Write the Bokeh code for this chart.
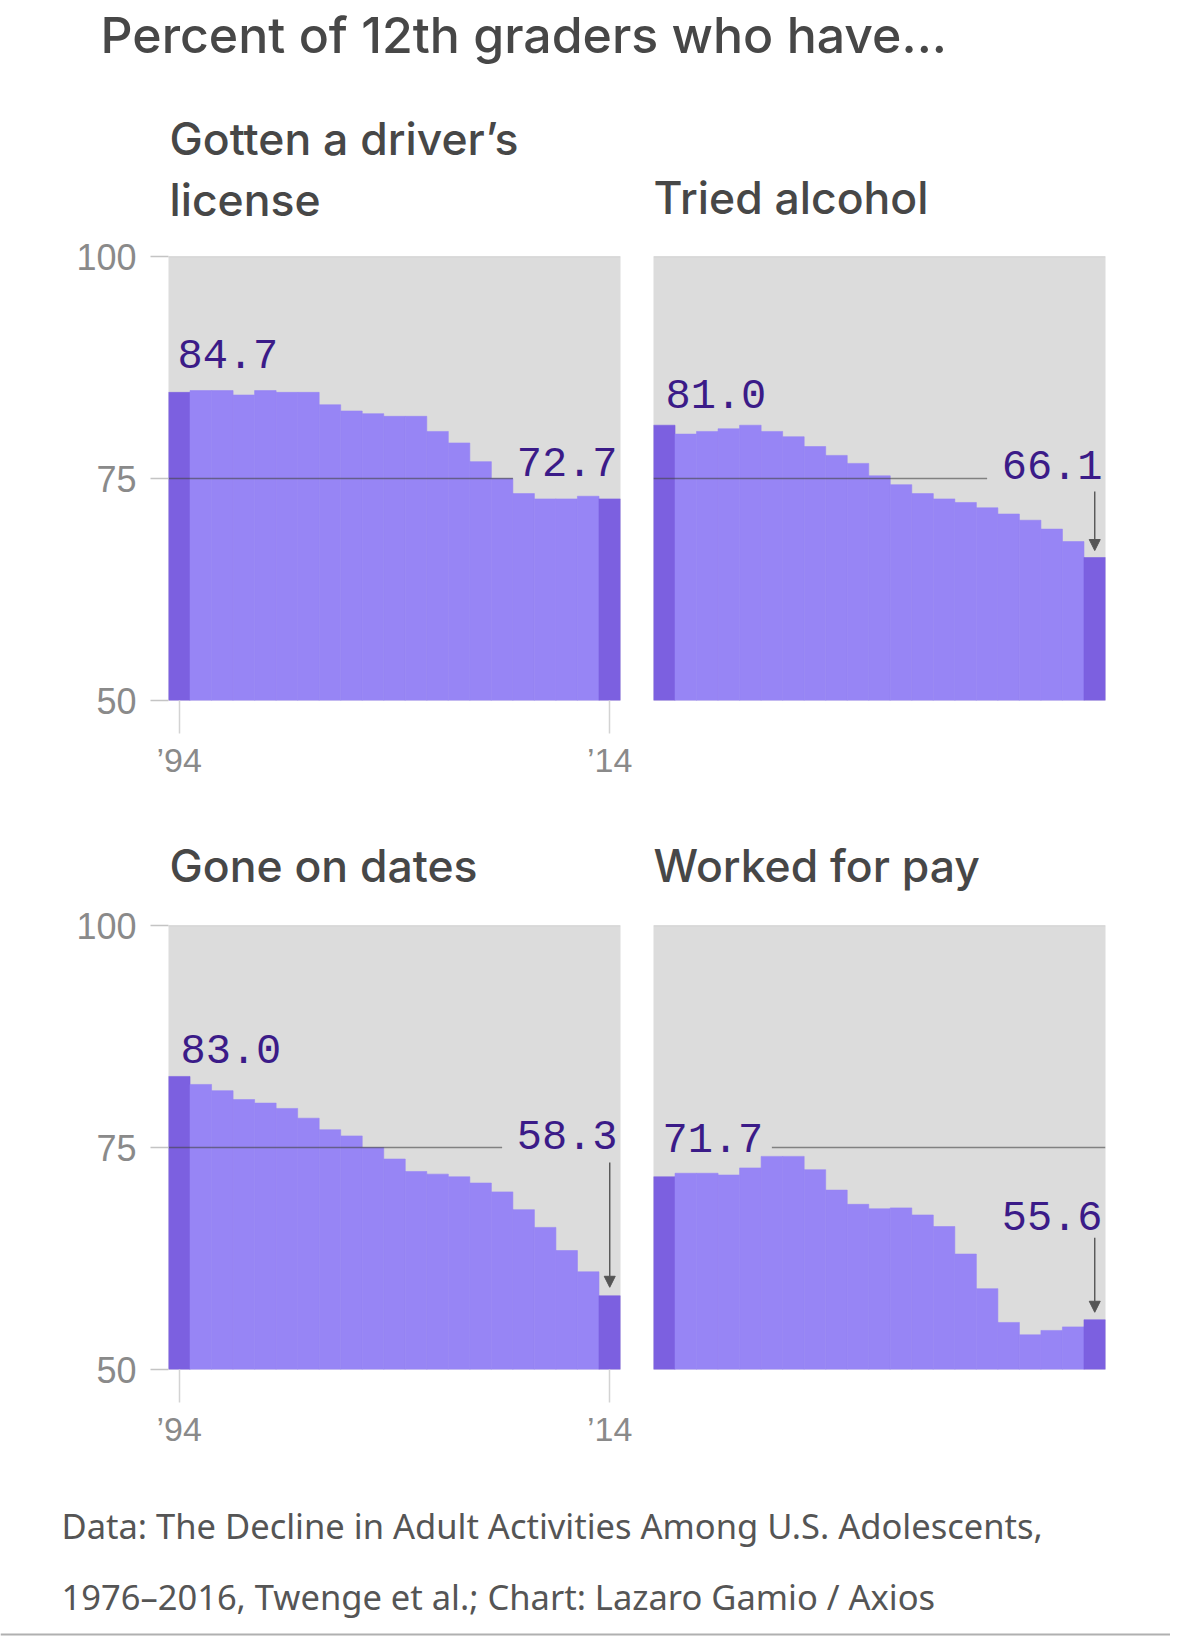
from bokeh.plotting import figure
from bokeh.layouts import column, row
from bokeh.models import Range1d, FixedTicker, Label, Arrow, NormalHead, ColumnDataSource, Span
from bokeh.embed import file_html
from bokeh.resources import INLINE

# ---------------- data ----------------
years = list(range(1994, 2015))
drivers_license = [84.7, 84.9, 84.9, 84.4, 84.9, 84.7, 84.7, 83.3, 82.6, 82.3, 82.0,
                   82.0, 80.3, 79.0, 76.9, 75.0, 73.3, 72.7, 72.7, 73.0, 72.7]
tried_alcohol = [81.0, 80.0, 80.3, 80.6, 81.0, 80.3, 79.7, 78.6, 77.6, 76.7, 75.3,
                 74.3, 73.3, 72.7, 72.3, 71.7, 71.0, 70.3, 69.3, 67.9, 66.1]
gone_on_dates = [83.0, 82.1, 81.4, 80.4, 80.0, 79.4, 78.3, 77.0, 76.3, 75.0, 73.7,
                 72.3, 72.0, 71.7, 71.0, 70.0, 68.0, 66.0, 63.4, 61.0, 58.3]
worked_for_pay = [71.7, 72.1, 72.1, 71.9, 72.7, 74.0, 74.0, 72.5, 70.2, 68.6, 68.1,
                  68.2, 67.4, 66.1, 63.0, 59.1, 55.3, 53.9, 54.4, 54.8, 55.6]

panel_titles = [["Gotten a driver\u2019s", "license"], ["Tried alcohol"],
                ["Gone on dates"], ["Worked for pay"]]
y_ticks = [50, 75, 100]
x_ticks = [1994, 2014]
x_tick_labels = {1994: "\u201994", 2014: "\u201914"}
reference_level = 75
main_title = "Percent of 12th graders who have..."
source_lines = ["Data: The Decline in Adult Activities Among U.S. Adolescents,",
                "1976\u20132016, Twenge et al.; Chart: Lazaro Gamio / Axios"]

# ---------------- style ----------------
BG = "#dcdcdc"
LIGHT = "#9785f5"
DARK = "#7c60e0"
LABEL_COLOR = "#3b1b88"
TITLE_COLOR = "#474747"
TICK_COLOR = "#8a8a8a"
HEAD_FONT = "'Inter Medium', 'Noto Sans Medium', 'Noto Sans'"
MONO = "Liberation Mono"
TICK_FONT = "Liberation Sans"
VAL_SIZE = 42

FRAME_W, FRAME_H = 452, 444
Y0, Y1 = 50, 100
UPP = (Y1 - Y0) / FRAME_H          # data units per pixel (y)
XPP = len(years) / FRAME_W         # data units per pixel (x)
XL, XR = years[0] - 0.5, years[-1] + 0.5
MID = 0.36                         # baseline -> middle, in em


def panel(vals, with_axes, left, right, top, bottom,
          first_dy, first_dx, last_base, line_x, arrow=None):
    w = left + FRAME_W + right
    h = top + FRAME_H + bottom
    p = figure(width=w, height=h, x_range=Range1d(XL, XR), y_range=Range1d(Y0, Y1),
               toolbar_location=None, output_backend="svg",
               min_border_left=left, min_border_right=right,
               min_border_top=top, min_border_bottom=bottom,
               x_axis_location="below" if with_axes else None,
               y_axis_location="left" if with_axes else None,
               background_fill_color=BG, border_fill_color="white",
               outline_line_color=None)
    p.grid.visible = False
    p.add_layout(Span(location=Y1, dimension="width", line_color="#c9c9c9", line_width=1.5))

    colors = [DARK] + [LIGHT] * (len(vals) - 2) + [DARK]
    src = ColumnDataSource(dict(x=years, top=vals, color=colors))
    p.vbar(x="x", top="top", bottom=Y0, width=1.0, source=src,
           fill_color="color", line_color="color", line_width=0.6)

    # reference line at 75
    p.segment(x0=[line_x[0]], y0=[reference_level], x1=[line_x[1]], y1=[reference_level],
              line_color="#444444", line_alpha=0.6, line_width=1.6)

    mid = MID * VAL_SIZE * UPP
    p.add_layout(Label(x=XL + first_dx * XPP, y=vals[0] + first_dy * UPP + mid,
                       text=f"{vals[0]:.1f}", text_font=MONO, text_font_size=f"{VAL_SIZE}px",
                       text_color=LABEL_COLOR, text_baseline="middle", text_align="left"))
    p.add_layout(Label(x=XR - 3 * XPP, y=last_base + mid,
                       text=f"{vals[-1]:.1f}", text_font=MONO, text_font_size=f"{VAL_SIZE}px",
                       text_color=LABEL_COLOR, text_baseline="middle", text_align="right"))
    if arrow is not None:
        ys, gap = arrow
        p.add_layout(Arrow(end=NormalHead(size=11, fill_color="#555555", line_color="#555555"),
                           x_start=years[-1], y_start=ys, x_end=years[-1],
                           y_end=vals[-1] + gap * UPP,
                           line_color="#555555", line_width=1.4))

    if with_axes:
        ya = p.yaxis[0]
        ya.ticker = FixedTicker(ticks=y_ticks)
        ya.axis_line_color = None
        ya.major_tick_in = 0
        ya.major_tick_out = 18
        ya.major_tick_line_color = "#c4c4c4"
        ya.major_tick_line_width = 1.5
        ya.minor_tick_line_color = None
        ya.major_label_text_font = TICK_FONT
        ya.major_label_text_font_size = "36px"
        ya.major_label_text_color = TICK_COLOR
        ya.major_label_standoff = 14

        xa = p.xaxis[0]
        xa.ticker = FixedTicker(ticks=x_ticks)
        xa.major_label_overrides = x_tick_labels
        xa.axis_line_color = None
        xa.major_tick_in = 0
        xa.major_tick_out = 33
        xa.major_tick_line_color = "#d3d3d3"
        xa.major_tick_line_width = 1.5
        xa.minor_tick_line_color = None
        xa.major_label_text_font = TICK_FONT
        xa.major_label_text_font_size = "34px"
        xa.major_label_text_color = TICK_COLOR
        xa.major_label_standoff = 7
    return p


def text_fig(w, h):
    f = figure(width=w, height=h, x_range=Range1d(0, w), y_range=Range1d(0, h),
               toolbar_location=None, output_backend="svg", min_border=0,
               x_axis_location=None, y_axis_location=None,
               outline_line_color=None, background_fill_color="white",
               border_fill_color="white")
    f.grid.visible = False
    return f


def put(f, x, base, text, size, font=HEAD_FONT, color=TITLE_COLOR):
    f.add_layout(Label(x=x, y=base + MID * size, text=text, text_font=font,
                       text_font_size=f"{size}px", text_color=color,
                       text_baseline="middle", text_align="left"))


W = 1170

# header: main title + first-row panel titles
header = text_fig(W, 236)
put(header, 100, 236 - 52.7, main_title, 50)
put(header, 169, 236 - 154.5, panel_titles[0][0], 44.5)
put(header, 169, 236 - 216, panel_titles[0][1], 44.5)
put(header, 653, 236 - 214, panel_titles[1][0], 44.5)

p1 = panel(drivers_license, True, 168, 16, 20, 100,
           first_dy=23.5, first_dx=9, last_base=reference_level + 1.3 * UPP,
           line_x=(XL, 2009.5))
p2 = panel(tried_alcohol, False, 17, 65, 20, 100,
           first_dy=16.5, first_dx=12, last_base=reference_level - 2 * UPP,
           line_x=(XL, 2009.0), arrow=(reference_level - 13 * UPP, 7))

mid_titles = text_fig(W, 105)
put(mid_titles, 169, 105 - 82, panel_titles[2][0], 44.5)
put(mid_titles, 653, 105 - 82, panel_titles[3][0], 44.5)

p3 = panel(gone_on_dates, True, 168, 16, 20, 91,
           first_dy=12.7, first_dx=12, last_base=reference_level - 3 * UPP,
           line_x=(XL, 2009.0), arrow=(reference_level - 15 * UPP, 8.5))
p4 = panel(worked_for_pay, False, 17, 65, 20, 91,
           first_dy=24, first_dx=9, last_base=worked_for_pay[-1] + 89 * UPP,
           line_x=(1999.0, XR), arrow=(worked_for_pay[-1] + 82 * UPP, 7.5))

footer = text_fig(W, 176)
put(footer, 61, 176 - 77, source_lines[0], 34.5, font="Noto Sans", color="#555555")
put(footer, 61, 176 - 148, source_lines[1], 34.5, font="Noto Sans", color="#555555")
footer.add_layout(Span(location=2, dimension="width", line_color="#b0b0b0", line_width=2))

layout = column(header, row(p1, p2), mid_titles, row(p3, p4), footer)
open("out.html", "w").write(file_html(layout, INLINE))
